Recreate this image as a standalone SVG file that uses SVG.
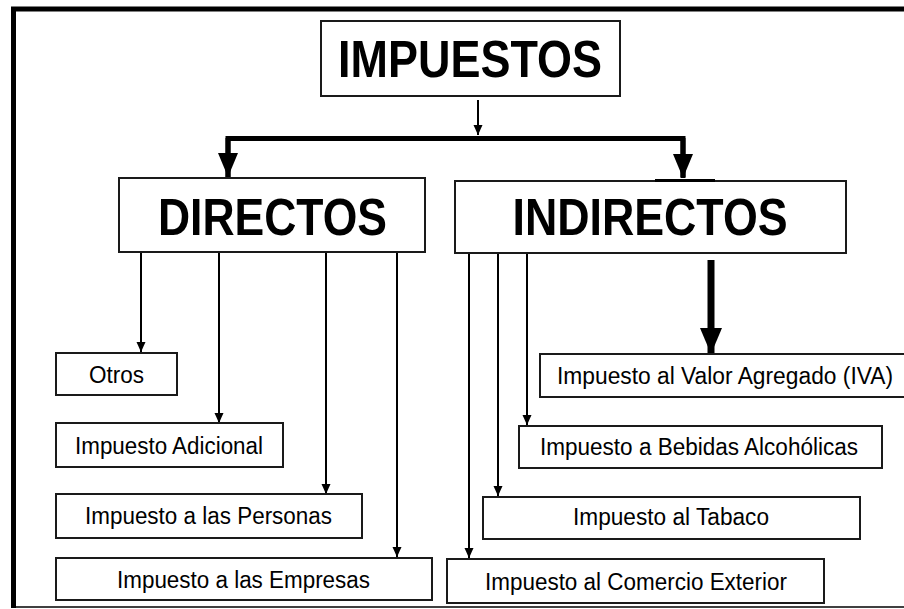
<svg xmlns="http://www.w3.org/2000/svg" width="904" height="609" viewBox="0 0 904 609">
  <style>
    .box { fill: #ffffff; stroke: #1a1a1a; stroke-width: 2; }
    .big { font-family: "Liberation Sans", Arial, sans-serif; font-weight: bold; font-size: 52px; fill: #000; }
    .lbl { font-family: "Liberation Sans", Arial, sans-serif; font-size: 23px; fill: #000; }
    .thin { stroke: #000; stroke-width: 2; fill: none; }
    .thick { stroke: #000; stroke-width: 5; fill: none; }
    .frame { stroke: #000; fill: none; }
  </style>
  <defs>
    <marker id="sm" markerUnits="userSpaceOnUse" markerWidth="10" markerHeight="10" refX="10" refY="5" orient="auto" viewBox="0 0 10 10">
      <path d="M0,0.5 L10,5 L0,9.5 z" fill="#000"/>
    </marker>
    <marker id="lg" markerUnits="userSpaceOnUse" markerWidth="24" markerHeight="20" refX="24" refY="10" orient="auto" viewBox="0 0 24 20">
      <path d="M0,0 L24,10 L0,20 z" fill="#000"/>
    </marker>
    <marker id="xl" markerUnits="userSpaceOnUse" markerWidth="26" markerHeight="22" refX="26" refY="11" orient="auto" viewBox="0 0 26 22">
      <path d="M0,0 L26,11 L0,22 z" fill="#000"/>
    </marker>
  </defs>
  <rect x="0" y="0" width="904" height="609" fill="#ffffff"/>

  <g id="frame">
    <line class="frame" x1="11" y1="9" x2="904" y2="9" stroke-width="5"/>
    <line class="frame" x1="13.5" y1="7" x2="13.5" y2="608" stroke-width="5"/>
    <line class="frame" x1="11" y1="607" x2="904" y2="607" stroke-width="1.5" stroke="#444"/>
  </g>

  <g id="connectors">
    <line class="thin" x1="478" y1="100" x2="478" y2="135" marker-end="url(#sm)"/>
    <polyline class="thick" points="228,177 228,138.5 683,138.5 683,177" stroke-linejoin="miter"/>
    <line class="thick" x1="228" y1="138" x2="228" y2="177" marker-end="url(#lg)"/>
    <line class="thick" x1="683" y1="138" x2="683" y2="178" marker-end="url(#lg)"/>
    <line class="thin" x1="141" y1="252" x2="141" y2="352" marker-end="url(#sm)"/>
    <line class="thin" x1="219" y1="252" x2="219" y2="423" marker-end="url(#sm)"/>
    <line class="thin" x1="326" y1="252" x2="326" y2="494" marker-end="url(#sm)"/>
    <line class="thin" x1="397" y1="252" x2="397" y2="557" marker-end="url(#sm)"/>
    <line stroke="#000" stroke-width="7" x1="711" y1="260" x2="711" y2="354" marker-end="url(#xl)"/>
    <line class="thin" x1="527" y1="253" x2="527" y2="425" marker-end="url(#sm)"/>
    <line class="thin" x1="498" y1="253" x2="498" y2="496" marker-end="url(#sm)"/>
    <line class="thin" x1="469" y1="253" x2="469" y2="558" marker-end="url(#sm)"/>
  </g>

  <g id="impuestos">
    <rect class="box" x="321" y="21" width="299" height="75"/>
    <text class="big" x="470" y="77" text-anchor="middle" textLength="264" lengthAdjust="spacingAndGlyphs">IMPUESTOS</text>
  </g>

  <g id="directos">
    <rect class="box" x="119" y="178" width="306" height="74"/>
    <text class="big" x="272.5" y="235" text-anchor="middle" textLength="229" lengthAdjust="spacingAndGlyphs">DIRECTOS</text>
  </g>

  <g id="indirectos">
    <rect class="box" x="455" y="181" width="391" height="72"/>
    <line x1="655" y1="180.5" x2="715" y2="180.5" stroke="#000" stroke-width="3"/>
    <text class="big" x="650" y="235" text-anchor="middle" textLength="275" lengthAdjust="spacingAndGlyphs">INDIRECTOS</text>
  </g>

  <g id="otros">
    <rect class="box" x="56" y="353" width="121" height="42"/>
    <text class="lbl" x="116.5" y="383" text-anchor="middle" textLength="55" lengthAdjust="spacingAndGlyphs">Otros</text>
  </g>

  <g id="adicional">
    <rect class="box" x="56" y="423" width="227" height="44"/>
    <text class="lbl" x="169" y="454" text-anchor="middle" textLength="188" lengthAdjust="spacingAndGlyphs">Impuesto Adicional</text>
  </g>

  <g id="personas">
    <rect class="box" x="56" y="494" width="306" height="44"/>
    <text class="lbl" x="208.5" y="524" text-anchor="middle" textLength="247" lengthAdjust="spacingAndGlyphs">Impuesto a las Personas</text>
  </g>

  <g id="empresas">
    <rect class="box" x="56" y="558" width="376" height="42"/>
    <text class="lbl" x="243.5" y="588" text-anchor="middle" textLength="253" lengthAdjust="spacingAndGlyphs">Impuesto a las Empresas</text>
  </g>

  <g id="iva">
    <rect class="box" x="540" y="354" width="370" height="43"/>
    <text class="lbl" x="725" y="384" text-anchor="middle" textLength="336" lengthAdjust="spacingAndGlyphs">Impuesto al Valor Agregado (IVA)</text>
  </g>

  <g id="bebidas">
    <rect class="box" x="519" y="426" width="363" height="42"/>
    <text class="lbl" x="699" y="455" text-anchor="middle" textLength="318" lengthAdjust="spacingAndGlyphs">Impuesto a Bebidas Alcohólicas</text>
  </g>

  <g id="tabaco">
    <rect class="box" x="483" y="497" width="377" height="42"/>
    <text class="lbl" x="671" y="525" text-anchor="middle" textLength="196" lengthAdjust="spacingAndGlyphs">Impuesto al Tabaco</text>
  </g>

  <g id="comercio">
    <rect class="box" x="447" y="559" width="377" height="44"/>
    <text class="lbl" x="636" y="590" text-anchor="middle" textLength="302" lengthAdjust="spacingAndGlyphs">Impuesto al Comercio Exterior</text>
  </g>
</svg>
